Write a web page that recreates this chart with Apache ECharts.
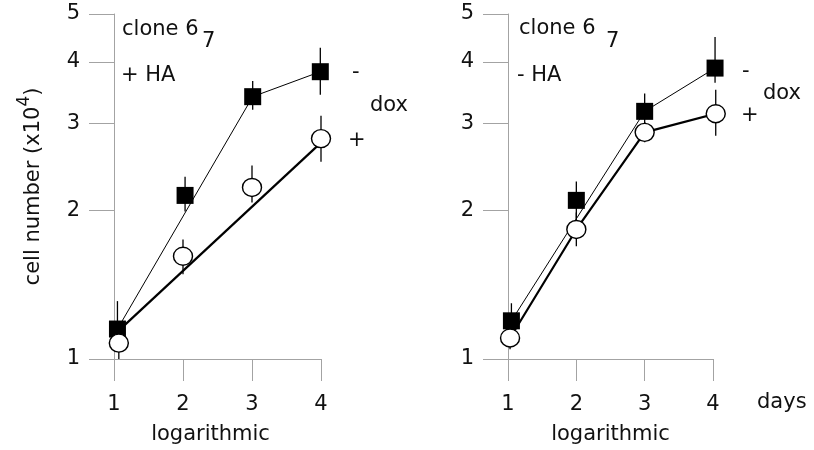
<!DOCTYPE html>
<html>
<head>
<meta charset="utf-8">
<script src="https://cdn.jsdelivr.net/npm/echarts@6/dist/echarts.min.js"></script>
<style>html,body{margin:0;padding:0;background:#fff}#c{width:814px;height:450px}</style>
</head>
<body>
<div id="c"></div>
<script>
// ---- data (cell number x10^4 vs days) ----
const xTicks = [1, 2, 3, 4];
const yTicks = [1, 2, 3, 4, 5];

// left panel: + HA
const L_sqX  = [1.05, 2.03, 3.01, 3.99];
const L_sqY  = [1.15, 2.145, 3.40, 3.82];
const L_sqLo = [1.05, 1.99, 3.20, 3.43];
const L_sqHi = [1.31, 2.34, 3.66, 4.27];
const L_ciX  = [1.07, 2.0, 3.0, 4.0];
const L_ciY  = [1.077, 1.615, 2.226, 2.796];
const L_ciLo = [1.0, 1.485, 2.075, 2.51];
const L_ciHi = [1.12, 1.747, 2.466, 3.11];
const L_sqLineX = [1.05, 3.01, 3.99];
const L_sqLineY = [1.15, 3.40, 3.82];
const L_ciLineX = [1.06, 4.0];
const L_ciLineY = [1.139, 2.744];

// right panel: - HA
const R_sqX  = [1.05, 2.0, 3.0, 4.03];
const R_sqY  = [1.195, 2.096, 3.175, 3.885];
const R_sqLo = [1.10, 1.92, 2.95, 3.63];
const R_sqHi = [1.297, 2.289, 3.45, 4.49];
const R_ciX  = [1.03, 2.0, 3.0, 4.04];
const R_ciY  = [1.103, 1.83, 2.879, 3.14];
const R_ciLo = [1.047, 1.692, 2.75, 2.835];
const R_ciHi = [1.16, 1.98, 3.02, 3.51];
const R_sqLineX = [1.05, 3.0, 4.03];
const R_sqLineY = [1.195, 3.175, 3.885];
const R_ciLineX = [1.03, 2.0, 3.0, 4.04];
const R_ciLineY = [1.103, 1.83, 2.879, 3.14];

const FONT = 'DejaVu Sans';
const FS = 21;
const AX = '#a3a3a3';

const zip = (a, b) => a.map((v, i) => [v, b[i]]);
const zip3 = (a, b, c) => a.map((v, i) => [v, b[i], c[i]]);

function xAxisFor(gi, name, padRight) {
  return {
    type: 'value', gridIndex: gi, min: 1, max: 4, interval: 1,
    axisLine: { show: true, lineStyle: { color: AX, width: 1 } },
    axisTick: { show: true, length: 22, lineStyle: { color: AX, width: 1 }, customValues: xTicks },
    axisLabel: { margin: 35, fontFamily: FONT, fontSize: FS, color: '#111', customValues: xTicks },
    splitLine: { show: false },
    name: name, nameLocation: 'middle', nameGap: 65,
    nameTextStyle: { fontFamily: FONT, fontSize: FS, color: '#111', padding: [0, padRight, 0, 0] }
  };
}
function yAxisFor(gi, withName) {
  const ax = {
    type: 'log', logBase: 10, gridIndex: gi, min: 1, max: 5,
    axisLine: { show: true, lineStyle: { color: AX, width: 1 } },
    axisTick: { show: true, length: 25, lineStyle: { color: AX, width: 1 }, customValues: yTicks },
    axisLabel: { margin: 34, fontFamily: FONT, fontSize: FS, color: '#111', customValues: yTicks },
    splitLine: { show: false }
  };
  if (withName) {
    ax.name = 'cell number (x10{sup|4})';
    ax.nameLocation = 'middle';
    ax.nameRotate = 90;
    ax.nameGap = 63;
    ax.nameTextStyle = {
      fontFamily: FONT, fontSize: FS, color: '#111',
      rich: { sup: { fontFamily: FONT, fontSize: 17, color: '#111', padding: [0, 0, 18, 0] } }
    };
  }
  return ax;
}

function errRender(params, api) {
  const x = api.value(0), lo = api.value(1), hi = api.value(2);
  const p1 = api.coord([x, lo]), p2 = api.coord([x, hi]);
  return { type: 'line', shape: { x1: p1[0], y1: p1[1], x2: p2[0], y2: p2[1] },
           style: { stroke: '#000', lineWidth: 1.3 } };
}

function panelSeries(gi, P) {
  return [
    { type: 'line', xAxisIndex: gi, yAxisIndex: gi, data: zip(P.sqLineX, P.sqLineY), symbol: 'none',
      lineStyle: { color: '#000', width: 1, opacity: 1 }, z: 2, clip: false, silent: true },
    { type: 'line', xAxisIndex: gi, yAxisIndex: gi, data: zip(P.ciLineX, P.ciLineY), symbol: 'none',
      lineStyle: { color: '#000', width: 2.2, opacity: 1 }, z: 2, clip: false, silent: true },
    { type: 'custom', xAxisIndex: gi, yAxisIndex: gi, data: zip3(P.sqX, P.sqLo, P.sqHi),
      renderItem: errRender, encode: { x: 0, y: [1, 2] }, z: 3, clip: false, silent: true },
    { type: 'custom', xAxisIndex: gi, yAxisIndex: gi, data: zip3(P.ciX, P.ciLo, P.ciHi),
      renderItem: errRender, encode: { x: 0, y: [1, 2] }, z: 3, clip: false, silent: true },
    { type: 'scatter', xAxisIndex: gi, yAxisIndex: gi, data: zip(P.sqX, P.sqY), symbol: 'rect',
      symbolSize: 17, itemStyle: { color: '#000', opacity: 1 }, z: 4, clip: false, silent: true },
    { type: 'scatter', xAxisIndex: gi, yAxisIndex: gi, data: zip(P.ciX, P.ciY), symbol: 'circle',
      symbolSize: [19, 18], itemStyle: { color: '#fff', borderColor: '#000', borderWidth: 1.4, opacity: 1 },
      z: 5, clip: false, silent: true }
  ];
}

const LP = { sqX: L_sqX, sqY: L_sqY, sqLo: L_sqLo, sqHi: L_sqHi, ciX: L_ciX, ciY: L_ciY, ciLo: L_ciLo, ciHi: L_ciHi,
             sqLineX: L_sqLineX, sqLineY: L_sqLineY, ciLineX: L_ciLineX, ciLineY: L_ciLineY };
const RP = { sqX: R_sqX, sqY: R_sqY, sqLo: R_sqLo, sqHi: R_sqHi, ciX: R_ciX, ciY: R_ciY, ciLo: R_ciLo, ciHi: R_ciHi,
             sqLineX: R_sqLineX, sqLineY: R_sqLineY, ciLineX: R_ciLineX, ciLineY: R_ciLineY };

function t(x, y, s) {
  return { type: 'text', x: x, y: y, style: { text: s, fontFamily: FONT, fontSize: FS, fill: '#111',
           align: 'left', verticalAlign: 'middle' }, silent: true };
}

const chart = echarts.init(document.getElementById('c'), null, { renderer: 'canvas' });
chart.setOption({
  animation: false,
  backgroundColor: '#fff',
  grid: [
    { left: 114, top: 14, width: 207, height: 346 },
    { left: 508, top: 14, width: 205, height: 346 }
  ],
  xAxis: [xAxisFor(0, 'logarithmic', 14), xAxisFor(1, 'logarithmic', 0)],
  yAxis: [yAxisFor(0, true), yAxisFor(1, false)],
  series: panelSeries(0, LP).concat(panelSeries(1, RP)),
  graphic: [
    t(122, 30, 'clone 6'), t(202, 42, '7'), t(121, 76, '+ HA'),
    t(352, 73, '-'), t(370, 106, 'dox'), t(348, 141, '+'),
    t(519, 29, 'clone 6'), t(606, 42, '7'), t(517, 76, '- HA'),
    t(742, 72, '-'), t(763, 94, 'dox'), t(741, 116, '+'),
    t(757, 403, 'days')
  ]
});
</script>
</body>
</html>
